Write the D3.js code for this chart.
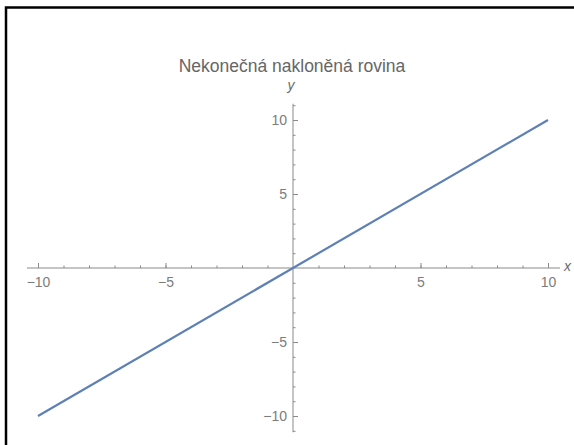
<!DOCTYPE html>
<html>
<head>
<meta charset="utf-8">
<title>Nekonečná nakloněná rovina</title>
<script src="https://cdnjs.cloudflare.com/ajax/libs/d3/7.8.5/d3.min.js"></script>
<style>
body { margin: 0; background: white; }
svg { display: block; font-family: "Liberation Sans", Arial, sans-serif; }
.axis path.domain { display: none; }
.axis line { stroke: #8a8a8a; }
.axis text { fill: #7c7c7c; font-size: 14px; }
.title { fill: #666; font-size: 17.5px; }
.axlabel { fill: #6a6a6a; font-size: 14px; font-style: italic; }
</style>
</head>
<body>
<div id="chart"></div>
<script>
// data: y = x on [-10, 10]
var xs = [-10, 10];
var ys = [-10, 10];
var majorTicks = [-10, -5, 5, 10];
var minorTicks = [-10, -9, -8, -7, -6, -5, -4, -3, -2, -1, 1, 2, 3, 4, 5, 6, 7, 8, 9, 10];
var yMinorTicks = [-11, -10, -9, -8, -7, -6, -5, -4, -3, -2, -1, 1, 2, 3, 4, 5, 6, 7, 8, 9, 10, 11];
var xExtent = [-10.43, 10.47];
var yExtent = [-11.1, 11.1];

var svg = d3.select("#chart").append("svg")
  .attr("width", 574)
  .attr("height", 445);

// frame
svg.append("rect")
  .attr("x", 6).attr("y", 7.5)
  .attr("width", 600).attr("height", 500)
  .attr("fill", "none")
  .attr("stroke", "black")
  .attr("stroke-width", 2.5);

var x = d3.scaleLinear().domain([-10, 10]).range([38, 548]);
var y = d3.scaleLinear().domain([-10, 10]).range([416, 120]);

svg.append("text")
  .attr("class", "title")
  .attr("x", 292).attr("y", 72)
  .attr("text-anchor", "middle")
  .text("Nekonečná nakloněná rovina");

// axis lines
svg.append("line")
  .attr("x1", x(xExtent[0])).attr("x2", x(xExtent[1]))
  .attr("y1", y(0)).attr("y2", y(0))
  .attr("stroke", "#8a8a8a");
svg.append("line")
  .attr("x1", x(0)).attr("x2", x(0))
  .attr("y1", y(yExtent[0])).attr("y2", y(yExtent[1]))
  .attr("stroke", "#8a8a8a");

// x axis ticks (pointing up)
svg.append("g").attr("class", "axis")
  .attr("transform", "translate(0," + y(0) + ")")
  .call(d3.axisBottom(x).tickValues(minorTicks).tickSize(-2.5).tickFormat(""));
svg.append("g").attr("class", "axis")
  .attr("transform", "translate(0," + y(0) + ")")
  .call(d3.axisBottom(x).tickValues(majorTicks).tickSize(-5).tickPadding(9));

// y axis ticks (pointing right)
svg.append("g").attr("class", "axis")
  .attr("transform", "translate(" + x(0) + ",0)")
  .call(d3.axisLeft(y).tickValues(yMinorTicks).tickSize(-2.5).tickFormat(""));
svg.append("g").attr("class", "axis")
  .attr("transform", "translate(" + x(0) + ",0)")
  .call(d3.axisLeft(y).tickValues(majorTicks).tickSize(-5).tickPadding(6));

svg.selectAll(".axis text").attr("font-family", null).attr("font-size", null);

svg.append("text").attr("class", "axlabel")
  .attr("x", x(0) - 2).attr("y", 90)
  .attr("text-anchor", "middle")
  .text("y");
svg.append("text").attr("class", "axlabel")
  .attr("x", 564).attr("y", y(0) + 3)
  .text("x");

// the line
var line = d3.line().x(d => x(d[0])).y(d => y(d[1]));
svg.append("path")
  .datum(d3.zip(xs, ys))
  .attr("d", line)
  .attr("fill", "none")
  .attr("stroke", "#5e81b5")
  .attr("stroke-width", 2.2);
</script>
</body>
</html>
